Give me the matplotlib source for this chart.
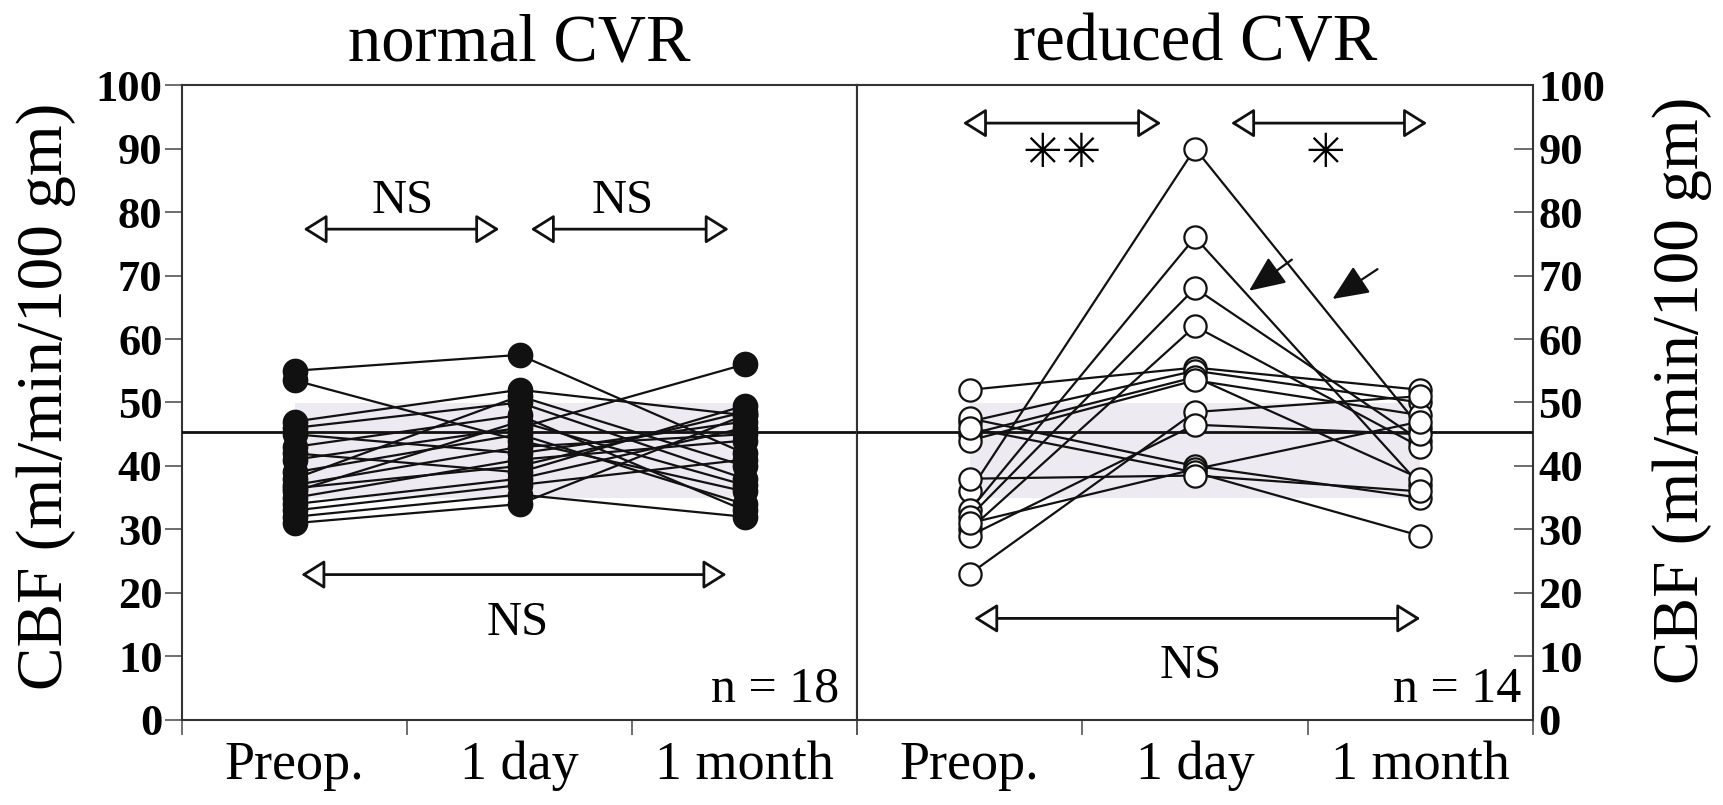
import matplotlib
matplotlib.use("Agg")
import matplotlib.pyplot as plt

# ---------------- data ----------------
timepoints = ["Preop.", "1 day", "1 month"]
panel_titles = ["normal CVR", "reduced CVR"]
y_ticks = [0, 10, 20, 30, 40, 50, 60, 70, 80, 90, 100]
ref_level = 45.3

normal_preop = [55, 53.5, 47, 46, 45, 43, 42, 41, 39, 38, 37, 36.5, 36, 35, 34, 33, 32, 31]
normal_day1 = [57.5, 44, 52, 50, 42, 48, 39, 46, 45, 51, 43, 40, 47, 41, 38, 37, 35.5, 34]
normal_month = [42, 36, 48, 38, 47, 33, 49.5, 56, 34, 40, 45, 48.5, 37, 44, 46, 41, 32, 48]

reduced_preop = [36, 33, 32, 30, 52, 47, 45, 44, 23, 29, 47.5, 31, 46, 38]
reduced_day1 = [90, 76, 68, 62, 55.5, 55, 54, 53.5, 48.5, 46.5, 40, 39.5, 39, 38.5]
reduced_month = [46, 37, 44, 43, 52, 50, 38, 48, 51, 45, 35, 47, 29, 36]

n_labels = ["n = 18", "n = 14"]

# ---------------- figure ----------------
plt.rcParams['font.family'] = ['Liberation Serif', 'DejaVu Serif']
DPI = 100
fig = plt.figure(figsize=(17.24, 8.05), dpi=DPI)

ax_l = fig.add_axes([0.1056, 0.1056, 0.3915, 0.7888])
ax_r = fig.add_axes([0.4971, 0.1056, 0.3921, 0.7888])

xpos = [0.5, 1.5, 2.5]
ink = '#111111'
shade = '#eeeaf1'


def style_axis(ax):
    ax.set_xlim(0, 3)
    ax.set_ylim(0, 100)
    for s in ax.spines.values():
        s.set_linewidth(1.5)
        s.set_color('#333333')
    ax.set_xticks([0, 1, 2, 3])
    ax.set_xticklabels([])
    ax.tick_params(axis='x', which='major', direction='out', length=11, width=1.2, color='#555555')
    ax.set_xticks(xpos, minor=True)
    ax.set_xticklabels(timepoints, minor=True, fontsize=39)
    ax.tick_params(axis='x', which='minor', length=0, pad=15)
    ax.axhline(ref_level, color=ink, lw=2, zorder=3)
    ax.fill_between([0.5, 2.5], 35, 50, color=shade, zorder=0, lw=0)


def dbl_arrow(ax, x0, x1, y):
    ax.annotate('', xy=(x1, y), xytext=(x0, y),
                arrowprops=dict(arrowstyle='<|-|>,head_length=0.4,head_width=0.25',
                                fc='white', ec=ink, lw=2, mutation_scale=36,
                                shrinkA=0, shrinkB=0), zorder=5)


# ---- left panel ----
style_axis(ax_l)
for a, b, c in zip(normal_preop, normal_day1, normal_month):
    ax_l.plot(xpos, [a, b, c], color=ink, lw=1.6, marker='o', markersize=17.5,
              markerfacecolor=ink, markeredgecolor=ink, zorder=4)
ax_l.set_yticks(y_ticks)
ax_l.set_yticklabels([str(v) for v in y_ticks], fontsize=32, fontweight='bold')
ax_l.tick_params(axis='y', direction='out', length=12, width=1.2, pad=2, color='#555555')

dbl_arrow(ax_l, 0.54, 1.41, 77.3)
dbl_arrow(ax_l, 1.55, 2.43, 77.3)
dbl_arrow(ax_l, 0.53, 2.42, 22.9)
ax_l.text(0.98, 81.7, "NS", fontsize=35, ha='center', va='center')
ax_l.text(1.96, 81.7, "NS", fontsize=35, ha='center', va='center')
ax_l.text(1.49, 15.3, "NS", fontsize=35, ha='center', va='center')
ax_l.text(2.92, 4.8, n_labels[0], fontsize=36, ha='right', va='center')

# ---- right panel ----
style_axis(ax_r)
for a, b, c in zip(reduced_preop, reduced_day1, reduced_month):
    ax_r.plot(xpos, [a, b, c], color=ink, lw=1.6, marker='o', markersize=16,
              markerfacecolor='white', markeredgecolor=ink, markeredgewidth=1.6, zorder=4)
ax_r.yaxis.tick_right()
ax_r.set_yticks(y_ticks)
ax_r.set_yticklabels([str(v) for v in y_ticks], fontsize=32, fontweight='bold')
ax_r.tick_params(axis='y', direction='in', length=14, width=1.2, pad=4, color='#555555')
ax_r.tick_params(axis='y', which='both', left=False)

dbl_arrow(ax_r, 0.47, 1.35, 94.0)
dbl_arrow(ax_r, 1.66, 2.53, 94.0)
dbl_arrow(ax_r, 0.52, 2.50, 16.0)
ax_r.text(0.91, 89.0, "✳✳", fontsize=34, ha='center', va='center', family='DejaVu Sans')
ax_r.text(2.08, 89.0, "✳", fontsize=34, ha='center', va='center', family='DejaVu Sans')
ax_r.text(1.48, 8.5, "NS", fontsize=35, ha='center', va='center')
ax_r.text(2.95, 4.8, n_labels[1], fontsize=36, ha='right', va='center')

# small pointing arrows
for tail, tip in [((1.93, 72.5), (1.74, 67.6)), ((2.31, 71.0), (2.11, 66.3))]:
    ax_r.annotate('', xy=tip, xytext=tail,
                  arrowprops=dict(arrowstyle='-|>,head_length=0.8,head_width=0.35',
                                  fc=ink, ec=ink, lw=1.6, mutation_scale=28,
                                  shrinkA=0, shrinkB=0), zorder=6)

# titles and axis labels
fig.text(0.3013, 0.945, panel_titles[0], fontsize=48, ha='center', va='center')
fig.text(0.6931, 0.945, panel_titles[1], fontsize=48, ha='center', va='center')
ylab = "CBF (ml/min/100 gm)"
fig.text(0.0267, 0.508, ylab, fontsize=47, rotation=90, ha='center', va='center')
fig.text(0.9756, 0.515, ylab, fontsize=47, rotation=90, ha='center', va='center')

fig.savefig("out.png", dpi=DPI)
